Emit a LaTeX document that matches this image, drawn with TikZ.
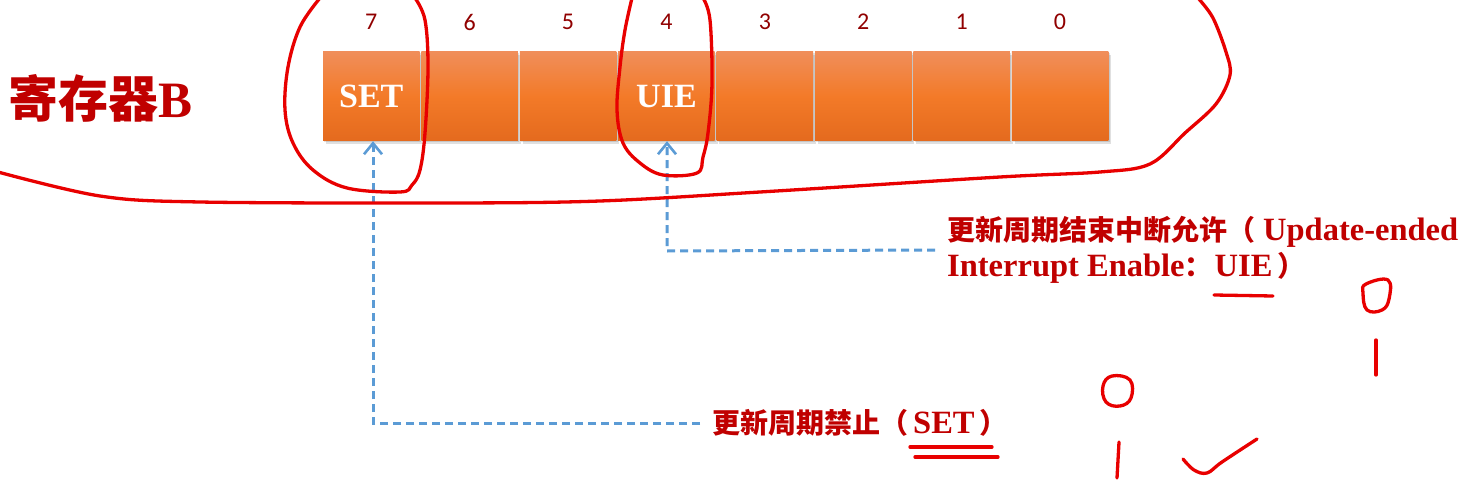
\documentclass[tikz,border=0pt]{standalone}
\usepackage{fontspec}
\setmainfont{Liberation Serif}
\newfontfamily\cjk{Noto Sans CJK SC}
\newfontfamily\numfont{Carlito}
\usetikzlibrary{arrows.meta}
\definecolor{darkred}{RGB}{192,0,0}
\definecolor{penred}{RGB}{232,0,0}
\definecolor{arrowblue}{RGB}{91,155,213}
\definecolor{otop}{RGB}{240,142,90}
\definecolor{omid}{RGB}{243,122,40}
\definecolor{obot}{RGB}{228,106,30}
\newcommand\zhtext[2]{{\cjk\bfseries\fontsize{#1}{36}\selectfont #2}}
\begin{document}
\begin{tikzpicture}[x=1pt,y=-1pt,
  cell/.style={minimum width=96.5pt,minimum height=89pt,inner sep=0pt,
    top color=otop,bottom color=obot,middle color=omid,
    font=\bfseries\fontsize{34}{34}\selectfont,text=white},
  cellshadow/.style={minimum width=96.5pt,minimum height=89pt,inner sep=0pt,
    fill=black,fill opacity=0.12},
  bitnum/.style={font=\numfont\fontsize{24}{24}\selectfont,text=darkred!75!black},
  label/.style={font=\bfseries\fontsize{32.5}{36}\selectfont,text=darkred,inner sep=0pt},
  pointer/.style={draw=arrowblue,line width=3pt,dash pattern=on 8pt off 5pt,
    -{Straight Barb[length=11pt,width=18pt,line width=2.6pt]}},
  pen/.style={draw=penred,line width=3.3pt,line cap=round,line join=round}]
\useasboundingbox (0,0) rectangle (1483,500);

% title
\node[anchor=west,inner sep=0pt,text=darkred] (title) at (8,98)
  {\zhtext{50}{寄存器}{\bfseries\fontsize{51}{51}\selectfont B}};

% register cells
\foreach \k/\b/\t in {0/7/SET,1/6/{},2/5/{},3/4/UIE,4/3/{},5/2/{},6/1/{},7/0/{}}{
  \node[cellshadow] at (371.25+98.4*\k+2.8,96.5+2.8) {};
  \node[cellshadow] at (371.25+98.4*\k+1.4,96.5+1.4) {};
  \node[cell] (b\b) at (371.25+98.4*\k,96.5) {\t};
  \node[bitnum] (n\b) at (371.25+98.4*\k,22) {\b};
}

% labels
\node[label,anchor=west] (setlab) at (712,423)
  {\zhtext{28}{更新周期禁止（}\hspace{5pt}SET\hspace{5pt}\zhtext{28}{）}};
\node[label,anchor=west,align=left] (uielab) at (947,250)
  {\zhtext{28}{更新周期结束中断允许（}\hspace{8pt}Update-ended\\
   Interrupt Enable\zhtext{28}{：}\hspace{2pt}UIE\hspace{5pt}\zhtext{28}{）}};

\coordinate (setcorner) at (373,423);
\coordinate (uiecorner) at (667,251);
\draw[pointer] ([xshift=-12pt]setlab.west) -- (setcorner) -- (b7.south -| setcorner);
\draw[pointer] ([xshift=-12pt]uielab.west) -- (uiecorner) -- (b4.south -| uiecorner);

% hand-drawn marks
\draw[pen] plot[smooth,tension=0.6] coordinates {(320,-2) (300,27) (288,67) (285,110) (293,143) (313,170) (347,188) (400,192) (412,185) (420,170) (425,133) (428,67) (425,20) (415,-2)};
\draw[pen] plot[smooth,tension=0.6] coordinates {(632,-2) (625,30) (620,67) (617,110) (623,143) (640,163) (663,175) (697,173) (703,157) (708,133) (712,83) (710,20) (703,-2)};
\draw[pen] plot[smooth,tension=0.55] coordinates {(-2,172) (100,196) (200,202) (450,203) (600,201) (760,192) (1000,177) (1100,172) (1150,164) (1185,133) (1216,104) (1230,75) (1226,52) (1213,18) (1198,-2)};
\draw[pen] (1214,295) -- (1273,296);
\draw[pen] (910,447) -- (992,447);
\draw[pen] (915,457) -- (998,457);
\draw[pen] plot[smooth cycle,tension=0.7] coordinates {(1112,376) (1130,380) (1131,398) (1120,406) (1106,402) (1103,386)};
\draw[pen] (1119,442) -- (1117,478);
\draw[pen] plot[smooth,tension=0.6] coordinates {(1183,459) (1194,470) (1207,473) (1222,462) (1257,439)};
\draw[pen] plot[smooth cycle,tension=0.7] coordinates {(1366,284) (1388,280) (1389,299) (1382,310) (1367,310) (1363,293)};
\draw[pen] (1376,340) -- (1376,375);
\end{tikzpicture}
\end{document}
